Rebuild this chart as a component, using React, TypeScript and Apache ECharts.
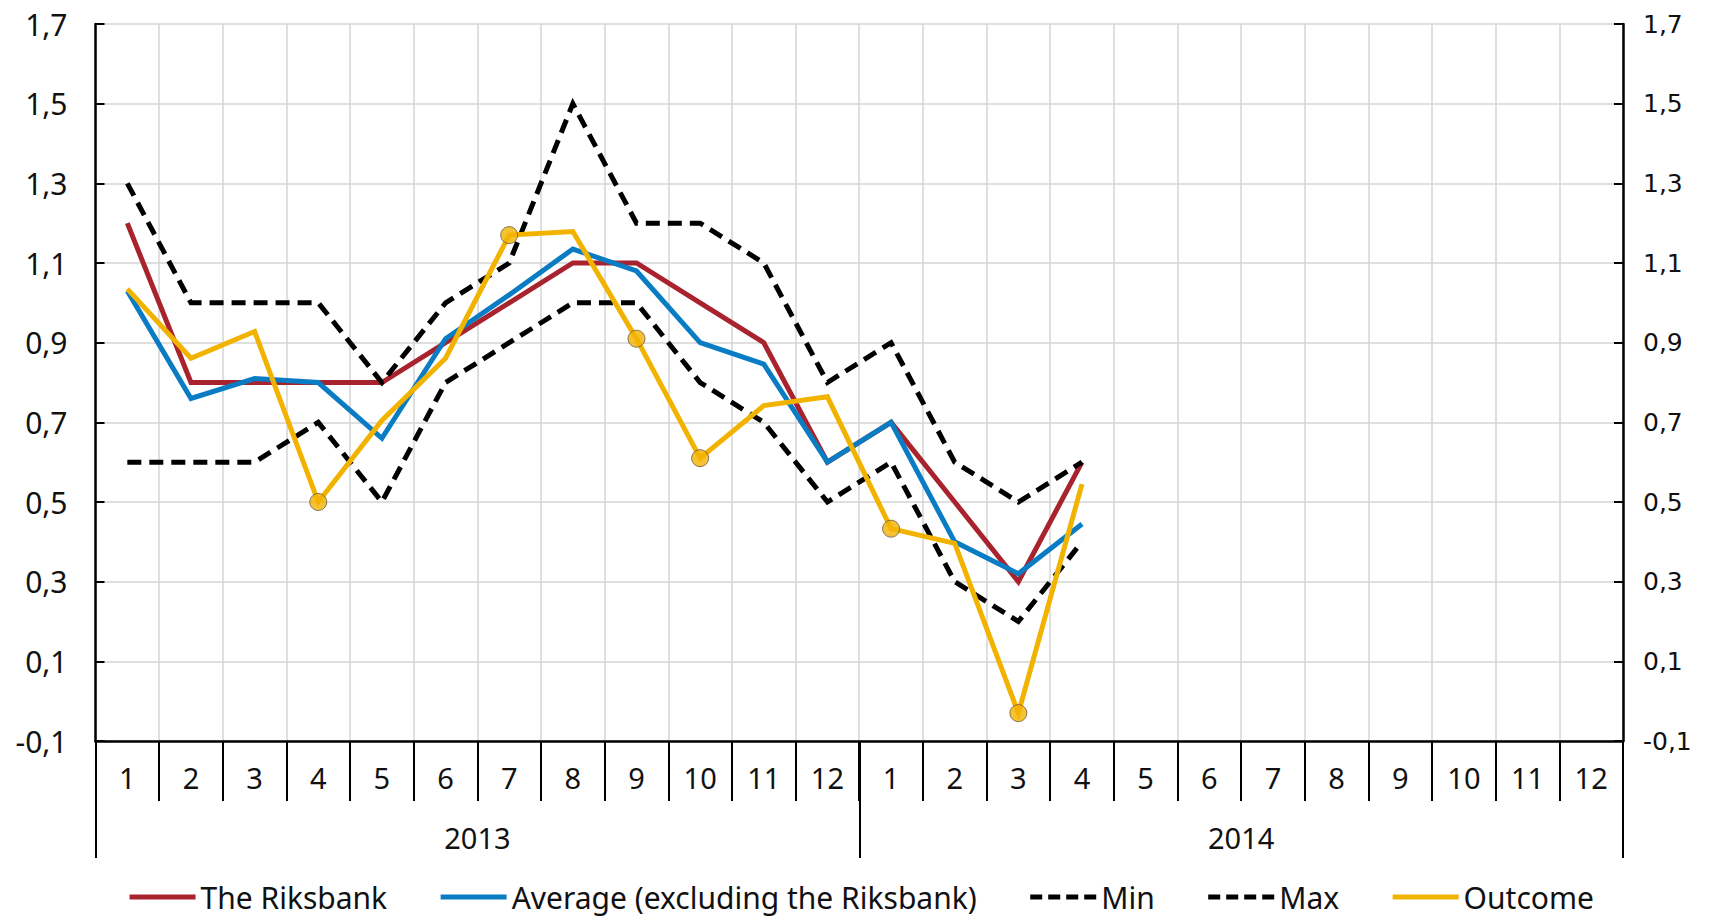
import React, { useEffect, useRef } from "react";
import * as echarts from "echarts";

const months = ["1","2","3","4","5","6","7","8","9","10","11","12","1","2","3","4","5","6","7","8","9","10","11","12"];
const years = ["2013", "2014"];
const yTicksMin = -0.1;
const yTicksMax = 1.7;
const yTickStep = 0.2;

const riksbank = [1.2, 0.8, 0.8, 0.8, 0.8, 0.9, 1.0, 1.1, 1.1, 1.0, 0.9, 0.6, 0.7, 0.5, 0.3, 0.6];
const average = [1.03, 0.76, 0.81, 0.8, 0.66, 0.91, 1.02, 1.135, 1.08, 0.9, 0.846, 0.6, 0.7, 0.4, 0.32, 0.445];
const minVals = [0.6, 0.6, 0.6, 0.7, 0.5, 0.8, 0.9, 1.0, 1.0, 0.8, 0.7, 0.5, 0.6, 0.3, 0.2, 0.4];
const maxVals = [1.3, 1.0, 1.0, 1.0, 0.8, 1.0, 1.1, 1.5, 1.2, 1.2, 1.1, 0.8, 0.9, 0.6, 0.5, 0.6];
const outcome = [1.035, 0.861, 0.928, 0.5, 0.705, 0.861, 1.17, 1.179, 0.91, 0.61, 0.742, 0.764, 0.433, 0.396, -0.03, 0.545];
const outcomeMarkerIdx = [3, 6, 8, 9, 12, 14];

const RED = "#A8232E";
const BLUE = "#0A7CC4";
const GOLD = "#F2B300";

export default function App() {
  const ref = useRef<HTMLDivElement>(null);
  useEffect(() => {
    if (!ref.current) return;
    const chart = echarts.init(ref.current, null, { renderer: "svg" });
    const fmt = (v: number) => v.toFixed(1).replace(".", ",");
    const markerData = months.map((_, i) =>
      outcomeMarkerIdx.includes(i) ? outcome[i] : null
    );
    const lineSeries = (name: string, data: number[], color: string, dashed: boolean, z: number) => ({
      name,
      type: "line",
      data,
      symbol: "none",
      z,
      lineStyle: {
        color,
        width: 5,
        type: dashed ? [14, 8] : "solid",
        cap: "butt",
        join: "miter",
      },
      itemStyle: { color },
    });
    chart.setOption({
      animation: false,
      backgroundColor: "#ffffff",
      grid: { left: 95.5, right: 98, top: 24, bottom: 176 },
      legend: {
        data: [
          { name: "The Riksbank" },
          { name: "Average (excluding the Riksbank)" },
          { name: "Min", lineStyle: { type: [12, 6], width: 5 } },
          { name: "Max", lineStyle: { type: [12, 6], width: 5 } },
          { name: "Outcome" },
        ],
        top: 877,
        left: "center",
        itemWidth: 66,
        itemHeight: 6,
        itemGap: 51,
        itemStyle: { opacity: 0 },
        lineStyle: { width: 5 },
        textStyle: { fontFamily: "Noto Sans", fontSize: 30, color: "#111" },
      },
      xAxis: [
        {
          type: "category",
          data: months,
          position: "bottom",
          boundaryGap: true,
          axisLine: { show: true, onZero: false, lineStyle: { color: "#000", width: 2.5 } },
          axisTick: { show: true, inside: false, length: 60, interval: 0, lineStyle: { color: "#000", width: 2 } },
          axisLabel: { interval: 0, margin: 22, fontFamily: "Noto Sans", fontSize: 29, color: "#111" },
          splitLine: { show: true, interval: 0, lineStyle: { color: "#d4d4d4", width: 1.5 } },
        },
        {
          type: "category",
          data: years,
          position: "bottom",
          offset: 0,
          boundaryGap: true,
          axisLine: { show: false, onZero: false },
          axisTick: { show: true, length: 117, interval: 0, lineStyle: { color: "#000", width: 2 } },
          axisLabel: { interval: 0, margin: 82, fontFamily: "Noto Sans", fontSize: 29, color: "#111" },
          splitLine: { show: false },
        },
      ],
      yAxis: [
        {
          type: "value",
          position: "left",
          min: yTicksMin,
          max: yTicksMax,
          interval: yTickStep,
          axisLine: { show: true, lineStyle: { color: "#000", width: 2.5 } },
          axisTick: { show: true, inside: true, length: 9, lineStyle: { color: "#000", width: 2 } },
          axisLabel: { formatter: fmt, margin: 28, fontFamily: "Noto Sans", fontSize: 30, color: "#111" },
          splitLine: { show: true, lineStyle: { color: "#d4d4d4", width: 1.5 } },
        },
        {
          type: "value",
          position: "right",
          min: yTicksMin,
          max: yTicksMax,
          interval: yTickStep,
          axisLine: { show: true, lineStyle: { color: "#000", width: 2.5 } },
          axisTick: { show: true, inside: true, length: 9, lineStyle: { color: "#000", width: 2 } },
          axisLabel: { formatter: fmt, margin: 20, fontFamily: "DejaVu Sans", fontSize: 25, color: "#111" },
          splitLine: { show: false },
        },
      ],
      series: [
        lineSeries("The Riksbank", riksbank, RED, false, 2),
        lineSeries("Average (excluding the Riksbank)", average, BLUE, false, 3),
        lineSeries("Min", minVals, "#000", true, 4),
        lineSeries("Max", maxVals, "#000", true, 4),
        lineSeries("Outcome", outcome, GOLD, false, 5),
        {
          name: "Outcome markers",
          type: "scatter",
          data: markerData,
          symbol: "circle",
          symbolSize: 17,
          z: 6,
          itemStyle: { color: GOLD, borderColor: "#6b5a48", borderWidth: 1 },
        },
      ],
    });
    return () => chart.dispose();
  }, []);
  return (
    <div
      ref={ref}
      style={{ position: "fixed", left: 0, top: 0, width: 1721, height: 917, background: "#fff" }}
    />
  );
}
